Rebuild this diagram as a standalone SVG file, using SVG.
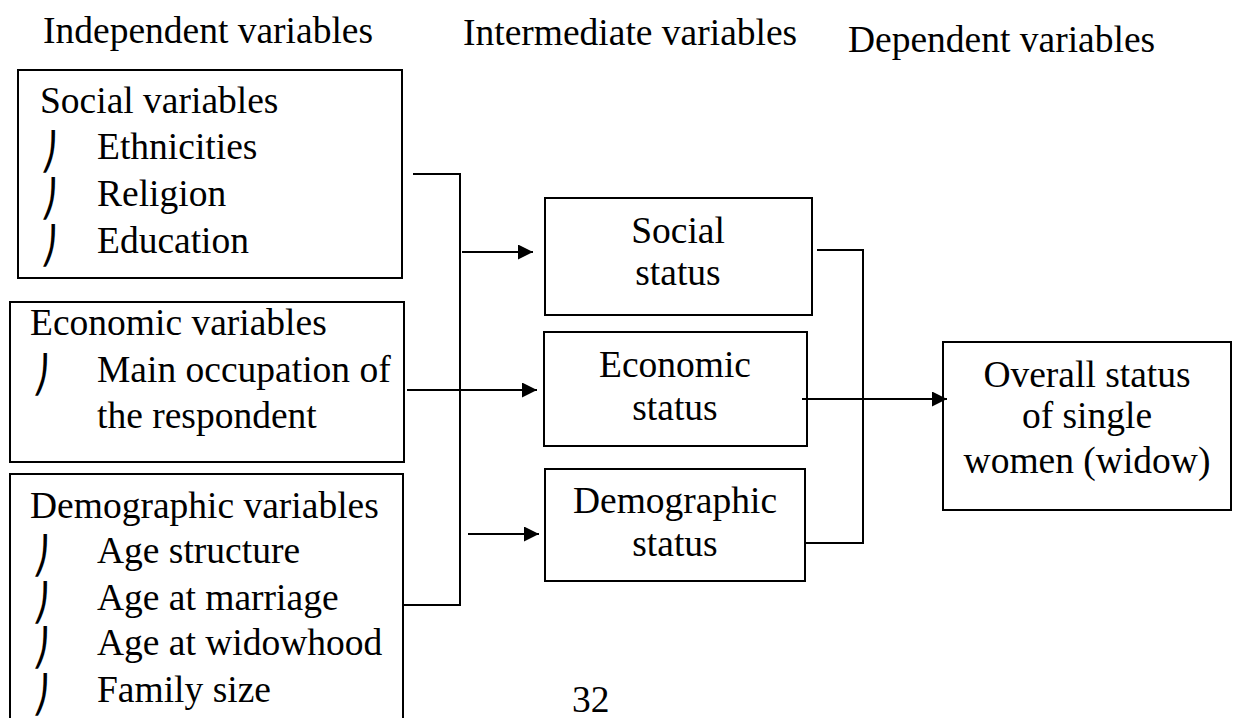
<svg xmlns="http://www.w3.org/2000/svg" width="1238" height="718" viewBox="0 0 1238 718">
<defs>
<style>
text{font-family:"Liberation Serif","Times New Roman",serif;font-size:37.5px;fill:#000}
.c{text-anchor:middle}
.b{font-family:"DejaVu Sans","Liberation Serif",serif;font-size:36px}
.box{fill:#fff;stroke:#000;stroke-width:2}
.ln{fill:none;stroke:#000;stroke-width:2}
</style>
<marker id="ah" viewBox="0 0 10 10" refX="10" refY="5" markerWidth="15" markerHeight="15" markerUnits="userSpaceOnUse" orient="auto">
<path d="M0,0 L10,5 L0,10 z" fill="#000"/>
</marker>
</defs>
<rect width="1238" height="718" fill="#fff"/>
<g id="headers">
<text x="43" y="43">Independent variables</text>
<text x="463" y="45">Intermediate variables</text>
<text x="848" y="52">Dependent variables</text>
</g>
<g id="social-variables">
<rect class="box" x="18" y="70" width="384" height="208"/>
<text x="40" y="113">Social variables</text>
<text class="b" x="40" y="164">⎠</text><text x="97" y="159">Ethnicities</text>
<text class="b" x="40" y="211">⎠</text><text x="97" y="206">Religion</text>
<text class="b" x="40" y="258">⎠</text><text x="97" y="253">Education</text>
</g>
<g id="economic-variables">
<rect class="box" x="10" y="302" width="394" height="160"/>
<text x="30" y="335">Economic variables</text>
<text class="b" x="32" y="387">⎠</text><text x="97" y="382">Main occupation of</text>
<text x="97" y="428">the respondent</text>
</g>
<g id="demographic-variables">
<rect class="box" x="10" y="474" width="393" height="260"/>
<text x="30" y="518">Demographic variables</text>
<text class="b" x="32" y="568">⎠</text><text x="97" y="563">Age structure</text>
<text class="b" x="32" y="615">⎠</text><text x="97" y="610">Age at marriage</text>
<text class="b" x="32" y="660">⎠</text><text x="97" y="655">Age at widowhood</text>
<text class="b" x="32" y="707">⎠</text><text x="97" y="702">Family size</text>
</g>
<g id="social-status">
<rect class="box" x="545" y="198" width="267" height="117"/>
<text class="c" x="678" y="243">Social</text>
<text class="c" x="678" y="285">status</text>
</g>
<g id="economic-status">
<rect class="box" x="544" y="332" width="263" height="114"/>
<text class="c" x="675" y="377">Economic</text>
<text class="c" x="675" y="420">status</text>
</g>
<g id="demographic-status">
<rect class="box" x="545" y="469" width="260" height="112"/>
<text class="c" x="675" y="513">Demographic</text>
<text class="c" x="675" y="556">status</text>
</g>
<g id="overall-status">
<rect class="box" x="943" y="342" width="288" height="168"/>
<text class="c" x="1087" y="387">Overall status</text>
<text class="c" x="1087" y="428">of single</text>
<text class="c" x="1087" y="473">women (widow)</text>
</g>
<g id="connectors">
<path class="ln" d="M413,174 H460 V605 H402"/>
<path class="ln" d="M462,252 H533" marker-end="url(#ah)"/>
<path class="ln" d="M407,390 H537" marker-end="url(#ah)"/>
<path class="ln" d="M468,534 H539" marker-end="url(#ah)"/>
<path class="ln" d="M817,250 H863 V543 H805"/>
<path class="ln" d="M802,399 H947" marker-end="url(#ah)"/>
</g>
<text x="572" y="712">32</text>
</svg>
